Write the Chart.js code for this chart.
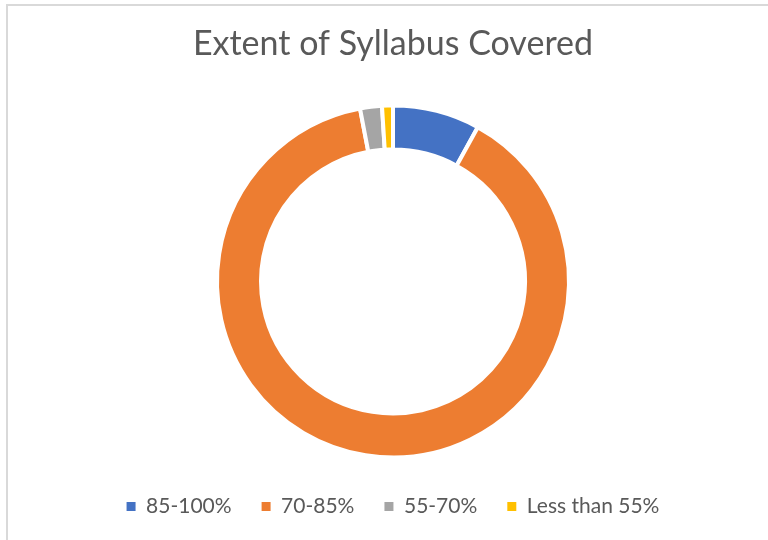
<!DOCTYPE html>
<html>
<head>
<meta charset="utf-8">
<script src="https://cdn.jsdelivr.net/npm/chart.js@4/dist/chart.umd.min.js"></script>
<style>
  html, body { margin: 0; padding: 0; background: #fff; overflow: hidden; }
  #box {
    position: absolute; left: 6px; top: 4px;
    width: 774px; height: 540px;
    border-left: 2px solid #d9d9d9; border-top: 2px solid #d9d9d9;
    box-sizing: border-box;
  }
  #wrap { position: absolute; left: -1px; top: 0; width: 772px; height: 538px; }
</style>
</head>
<body>
<div id="box"><div id="wrap"><canvas id="myChart"></canvas></div></div>
<script>
// categories and values (percent of respondents)
const categories = ['85-100%', '70-85%', '55-70%', 'Less than 55%'];
const shares = [8, 89, 2, 1];
const sliceColors = ['#4472C4', '#ED7D31', '#A5A5A5', '#FFC000'];

const ctx = document.getElementById('myChart').getContext('2d');
new Chart(ctx, {
  type: 'doughnut',
  data: {
    labels: categories,
    datasets: [
      {
        data: shares,
        backgroundColor: sliceColors,
        borderColor: '#ffffff',
        borderWidth: 4,
      },
    ],
  },
  options: {
    responsive: true,
    maintainAspectRatio: false,
    animation: false,
    cutout: '75%',
    radius: 176,
    layout: {
      padding: { top: 0, bottom: 17, left: 0, right: 0 },
    },
    plugins: {
      title: {
        display: true,
        text: 'Extent of Syllabus Covered',
        color: '#595959',
        font: { family: 'Lato', size: 34, weight: 'normal' },
        padding: { top: 18, bottom: 32 },
      },
      legend: {
        position: 'bottom',
        labels: {
          boxWidth: 9,
          boxHeight: 9,
          padding: 30,
          color: '#595959',
          font: { family: 'Lato', size: 21 },
          // keep the legend squares solid (no white slice border on them)
          generateLabels: (chart) => {
            const items = Chart.overrides.doughnut.plugins.legend.labels.generateLabels(chart);
            items.forEach((item) => {
              item.lineWidth = 0;
              item.strokeStyle = item.fillStyle;
            });
            return items;
          },
        },
      },
      tooltip: { enabled: false },
    },
  },
});
</script>
</body>
</html>
